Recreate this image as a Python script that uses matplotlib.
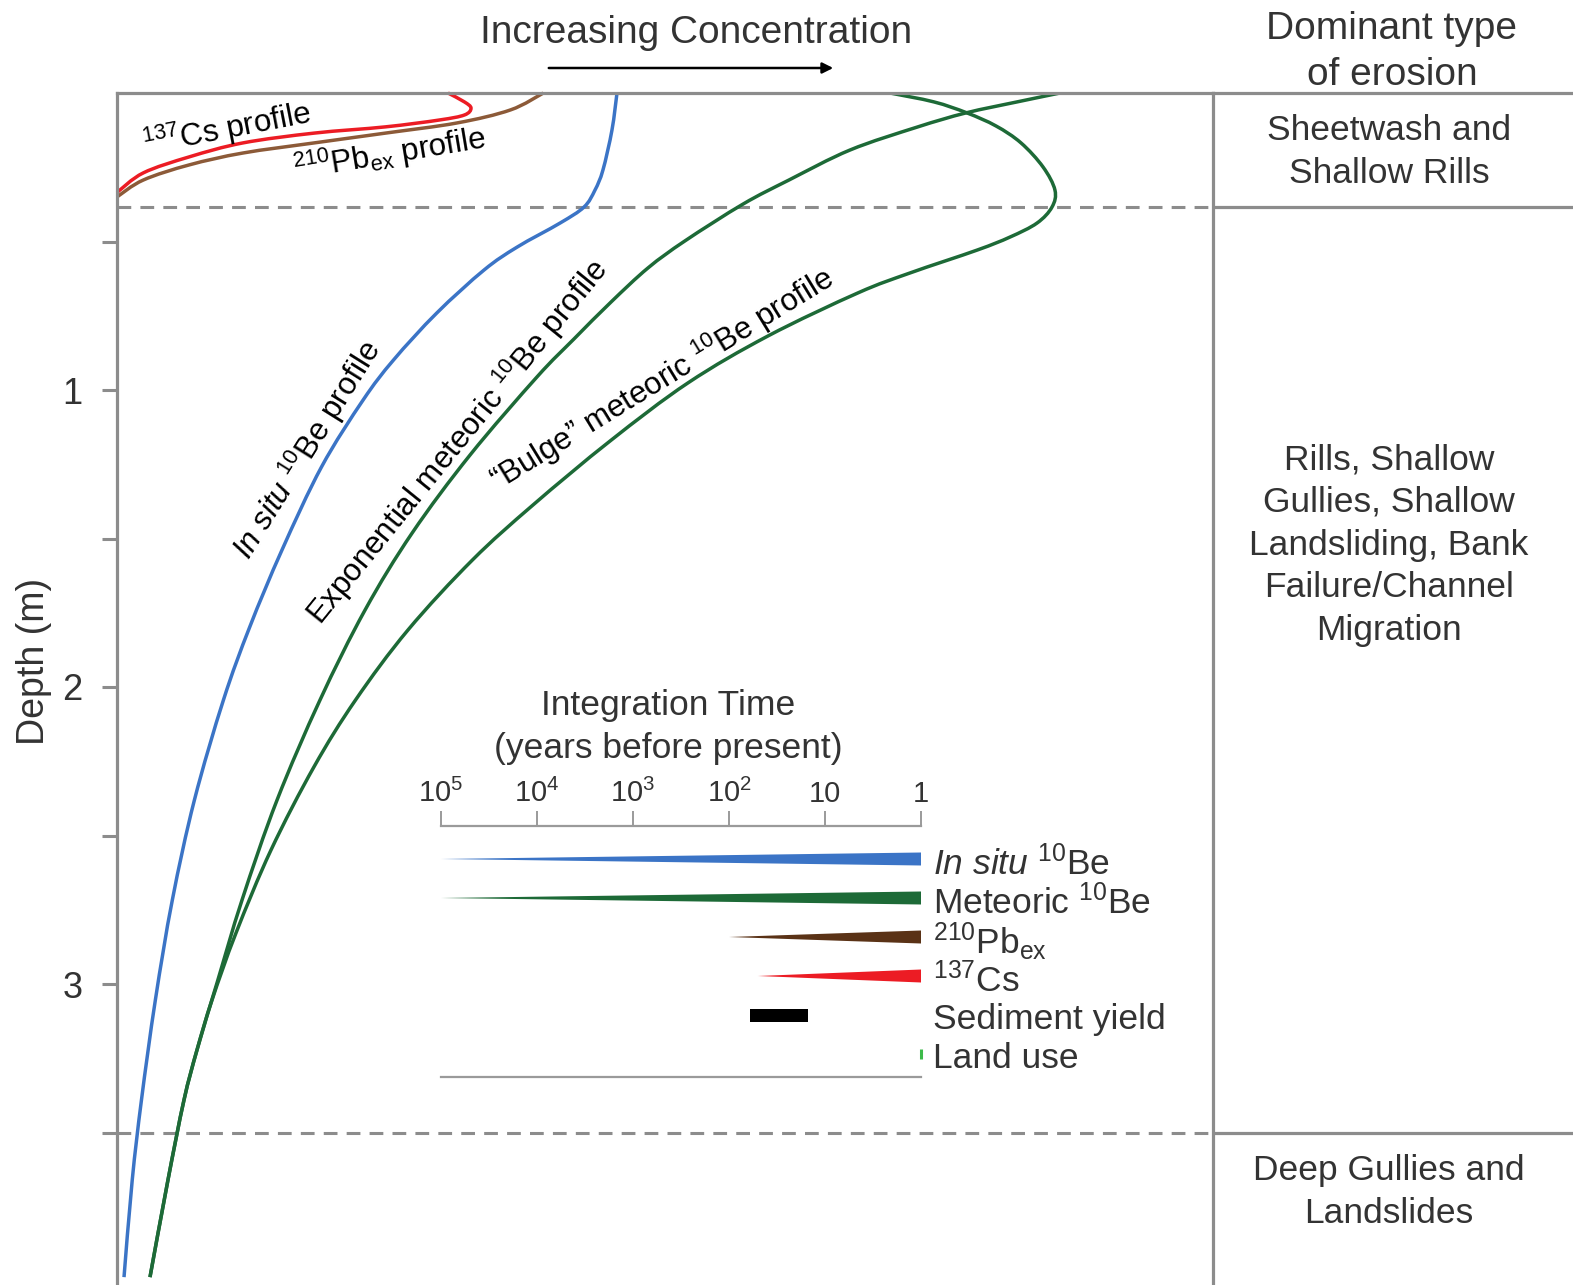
import numpy as np
import matplotlib
matplotlib.use('Agg')
import matplotlib.pyplot as plt
from matplotlib.path import Path
from matplotlib.patches import PathPatch, FancyArrowPatch

plt.rcParams['font.family'] = 'Liberation Sans'
plt.rcParams['mathtext.fontset'] = 'custom'
plt.rcParams['mathtext.rm'] = 'Liberation Sans'
plt.rcParams['mathtext.it'] = 'Liberation Sans:italic'
#============================================================================#
# depth profiles (concentration in arbitrary units 0-100, depth in m)
insitu_conc = [45.62, 45.16, 44.34, 43.61, 42.61, 40.42, 36.50, 33.49, 29.17, 25.23, 22.45,
               18.66, 15.05, 12.11, 9.71, 7.06, 5.05, 3.50, 2.23, 1.39, 0.64]
insitu_depth = [0.0, 0.125, 0.259, 0.327, 0.384, 0.438, 0.519, 0.596, 0.741, 0.899, 1.034,
                1.259, 1.539, 1.798, 2.044, 2.381, 2.717, 3.054, 3.391, 3.660, 3.987]

expo_conc = [86.04, 82.12, 77.46, 72.99, 66.88, 61.31, 57.12, 51.82, 48.45, 45.07, 41.70, 38.32,
             32.21, 26.92, 22.63, 18.52, 14.60, 11.41, 9.12, 7.30, 6.11, 4.65, 3.01]
expo_depth = [0.0, 0.030, 0.067, 0.115, 0.192, 0.293, 0.374, 0.498, 0.589, 0.704, 0.828, 0.956,
              1.219, 1.482, 1.741, 2.044, 2.381, 2.717, 2.997, 3.222, 3.391, 3.660, 3.987]

bulge_conc = [70.53, 74.54, 77.55, 80.20, 82.48, 84.49, 85.58, 85.31, 83.94, 81.48, 78.47, 72.35,
              67.61, 59.40, 52.10, 44.98, 37.96, 32.44, 26.55, 21.76, 17.97, 14.05, 10.86, 8.67,
              7.30, 6.11, 4.65, 3.01]
bulge_depth = [0.0, 0.030, 0.067, 0.111, 0.168, 0.249, 0.327, 0.384, 0.438, 0.485, 0.529, 0.606,
               0.673, 0.818, 0.976, 1.172, 1.387, 1.572, 1.808, 2.044, 2.269, 2.549, 2.828, 3.054,
               3.222, 3.391, 3.660, 3.987]

cs_conc = [30.2, 31.7, 32.3, 31.7, 29.4, 24.5, 18.0, 11.5, 6.6, 2.4, 0.0]
cs_depth = [0.0, 0.030, 0.051, 0.074, 0.091, 0.114, 0.135, 0.168, 0.215, 0.269, 0.335]

pb_conc = [38.9, 35.9, 31.0, 24.5, 18.0, 11.5, 6.6, 2.4, 0.0]
pb_depth = [0.0, 0.057, 0.101, 0.135, 0.168, 0.202, 0.242, 0.293, 0.350]

zone_bounds = [0.385, 3.5]
zone_labels = ['Sheetwash and\nShallow Rills',
               'Rills, Shallow\nGullies, Shallow\nLandsliding, Bank\nFailure/Channel\nMigration',
               'Deep Gullies and\nLandslides']
zone_label_depth = [0.198, 1.522, 3.70]

# integration time (years before present)
time_ticks = [1e5, 1e4, 1e3, 1e2, 10, 1]
time_ticklabels = ['10$^5$', '10$^4$', '10$^3$', '10$^2$', '10', '1']
method_names = [r'$\mathit{In\ situ}$ $^{10}$Be', 'Meteoric $^{10}$Be', r'$^{210}$Pb$_{\rm ex}$',
                '$^{137}$Cs', 'Sediment yield', 'Land use']
method_start = [1e5, 1e5, 100, 50, 60, 1]
method_end = [1, 1, 1, 1, 15, 1]

#============================================================================#
W, H = 1573, 1285
BLUE = '#3b74c6'
GREEN = '#1d6a37'
RED = '#ec1c24'
BROWN = '#8c5a38'
DKBROWN = '#5a3216'
LGREEN = '#3dba4a'
GRAY = '#8c8c8c'
TXT = '#333333'


def smooth_curve(ax, xs, ys, color, lw, clip=True):
    # smooth bezier path through the read points (catmull-rom handles)
    P = np.column_stack([xs, ys]).astype(float)
    n = len(P)
    verts = [P[0]]
    codes = [Path.MOVETO]
    for i in range(n - 1):
        p0 = P[i - 1] if i > 0 else P[i]
        p3 = P[i + 2] if i + 2 < n else P[i + 1]
        verts += [P[i] + (P[i + 1] - p0) / 6.0, P[i + 1] - (p3 - P[i]) / 6.0, P[i + 1]]
        codes += [Path.CURVE4] * 3
    patch = PathPatch(Path(verts, codes), fill=False, edgecolor=color, lw=lw,
                      capstyle='butt', joinstyle='round', clip_on=clip)
    ax.add_patch(patch)


fig = plt.figure(figsize=(W / 100, H / 100), dpi=100)
ax = fig.add_axes([117 / W, 0, (1213 - 117) / W, 1192 / H])
ax.set_xlim(0, 100)
ax.set_ylim(1192 / 297, 0)

lw = 2.5
smooth_curve(ax, cs_conc, cs_depth, RED, lw, clip=False)
smooth_curve(ax, pb_conc, pb_depth, BROWN, lw, clip=False)
smooth_curve(ax, insitu_conc, insitu_depth, BLUE, lw)
smooth_curve(ax, expo_conc, expo_depth, GREEN, lw)
smooth_curve(ax, bulge_conc, bulge_depth, GREEN, lw)

for b in zone_bounds:
    ax.axhline(b, color=GRAY, lw=2.2, dashes=(4.5, 3), zorder=0)

ax.spines['bottom'].set_visible(False)
for s in ['left', 'top', 'right']:
    ax.spines[s].set_color(GRAY)
    ax.spines[s].set_linewidth(2.3)
ax.set_xticks([])
ax.set_yticks([0.5, 1, 1.5, 2, 2.5, 3, 3.5])
ax.set_yticklabels(['', '1', '', '2', '', '3', ''])
ax.tick_params(axis='y', length=11, width=2.2, color=GRAY, labelsize=26,
               labelcolor=TXT, pad=14)
ax.set_ylabel('Depth (m)', fontsize=27, color=TXT)
ax.yaxis.set_label_coords(-0.059, 0.5235)

# curve labels
lab_kw = dict(fontsize=22.5, ha='center', va='center', rotation_mode='anchor')
ax.text(10.0, 0.12, '$^{137}$Cs profile', rotation=11, **lab_kw)
ax.text(24.9, 0.205, r'$^{210}$Pb$_{\rm ex}$ profile', rotation=9.5, **lab_kw)
ax.text(17.3, 1.20, r'$\mathit{In\ situ}$ $^{10}$Be profile', rotation=58, **lab_kw)
ax.text(31.1, 1.175, 'Exponential meteoric $^{10}$Be profile', rotation=51, **lab_kw)
ax.text(49.7, 0.962, '\u201cBulge\u201d meteoric $^{10}$Be profile', rotation=31.5, **lab_kw)

# right panel: dominant erosion type
ax2 = fig.add_axes([1213 / W, 0, 360 / W, 1192 / H])
ax2.set_xlim(0, 1)
ax2.set_ylim(1192 / 297, 0)
ax2.axis('off')
ax2.axhline(0, color=GRAY, lw=2.3, clip_on=False)
for b in zone_bounds:
    ax2.axhline(b, color=GRAY, lw=2.3)
for lab, d in zip(zone_labels, zone_label_depth):
    ax2.text(0.489, d, lab, ha='center', va='center', fontsize=25.5, color=TXT,
             linespacing=1.37)

fig.text(1392 / W, 1 - 52 / H, 'Dominant type\nof erosion', ha='center', va='center',
         fontsize=28, color=TXT, linespacing=1.38)
fig.text(696 / W, 1 - 33 / H, 'Increasing Concentration', ha='center', va='center',
         fontsize=28, color=TXT)
fig.add_artist(FancyArrowPatch((546 / W, 1 - 68 / H), (836 / W, 1 - 68 / H),
               transform=fig.transFigure, arrowstyle='-|>', mutation_scale=16,
               color='black', lw=1.8))

#============================================================================#
# inset: integration time
axi = fig.add_axes([441 / W, 1 - 1077 / H, 480 / W, (1077 - 826) / H])
axi.patch.set_visible(False)
axi.set_xscale('log')
axi.set_xlim(1e5, 1)
row_step = 39.0
axi.set_ylim((1077 - 859) / row_step, (826 - 859) / row_step)
for s in ['left', 'right']:
    axi.spines[s].set_visible(False)
for s in ['top', 'bottom']:
    axi.spines[s].set_color('#9a9a9a')
    axi.spines[s].set_linewidth(1.6)
axi.xaxis.tick_top()
axi.set_xticks(time_ticks)
axi.set_xticklabels(time_ticklabels)
axi.minorticks_off()
axi.tick_params(axis='x', direction='out', length=11, width=1.4, color='#9a9a9a',
                labelsize=21, labelcolor=TXT, pad=2)
axi.set_yticks([])
axi.text(0.473, 1 + (826 - 727) / 251, 'Integration Time\n(years before present)',
         transform=axi.transAxes, ha='center', va='center', fontsize=25.5, color=TXT,
         linespacing=1.36)

half = 6.5 / row_step
wedge_colors = [BLUE, GREEN, DKBROWN, RED]
for i in range(4):
    axi.fill([method_start[i], method_end[i], method_end[i]], [i, i - half, i + half],
             color=wedge_colors[i], lw=0)
axi.fill([method_start[4], method_end[4], method_end[4], method_start[4]],
         [4 - half, 4 - half, 4 + half, 4 + half], color='black', lw=0)
axi.plot([method_start[5], method_end[5]], [5 - 0.14, 5 + 0.14], color=LGREEN, lw=2.2,
         solid_capstyle='butt', clip_on=False)
for i, name in enumerate(method_names):
    axi.annotate(name, xy=(1, i), xytext=(9, -3.5), textcoords='offset points',
                 ha='left', va='center', fontsize=25.5, color=TXT, annotation_clip=False)

fig.savefig('out.png', dpi=100)
